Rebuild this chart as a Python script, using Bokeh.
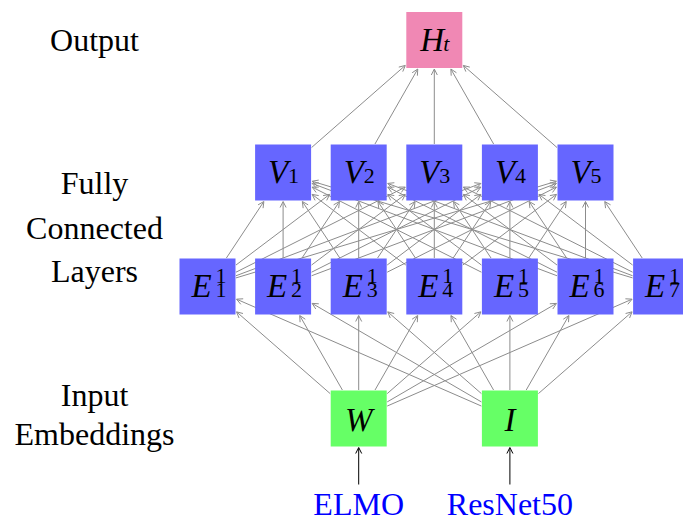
from bokeh.plotting import figure
from bokeh.models import Range1d, Arrow, OpenHead, ColumnDataSource
from bokeh.core.properties import value
from bokeh.embed import file_html
from bokeh.resources import INLINE

# ---- content ----
output_letters = ["H"]
output_subs = ["t"]
output_sups = [""]
output_cols = [3]

fc_letters = ["V", "V", "V", "V", "V"]
fc_subs = ["1", "2", "3", "4", "5"]
fc_sups = ["", "", "", "", ""]
fc_cols = [1, 2, 3, 4, 5]

emb_letters = ["E", "E", "E", "E", "E", "E", "E"]
emb_subs = ["1", "2", "3", "4", "5", "6", "7"]
emb_sups = ["1", "1", "1", "1", "1", "1", "1"]
emb_cols = [0, 1, 2, 3, 4, 5, 6]

input_letters = ["W", "I"]
input_subs = ["", ""]
input_sups = ["", ""]
input_cols = [2, 4]

source_names = ["ELMO", "ResNet50"]

side_labels = ["Output", "Fully", "Connected", "Layers", "Input", "Embeddings"]

# ---- layout (pixel coordinates) ----
W, H = 683, 521
X0, PITCH = 207.0, 75.6
ROW_Y = {"out": 39.5, "fc": 172.0, "emb": 286.0, "inp": 418.0}
BOX = 56.0
HALF = 28.5
TY = -10  # baseline correction for rendered text
SIDE_X = 94
SIDE_Y = [49, 192, 237, 280, 404, 443]
SRC_Y = 513
SRC_ARROW_Y = 484
# per-layer label offsets: (main left offset, script left offset)
LBL_OFF = {"out": (-14, 9), "fc": (-15, 5), "emb": (-16, 8)}

COL_BLUE = "#6666FF"
COL_GREEN = "#66FF66"
COL_PINK = "#F088B4"
EDGE = "#8c8c8c"
SERIF = "Liberation Serif"

p = figure(width=W, height=H, x_range=Range1d(0, W), y_range=Range1d(H, 0),
           output_backend="svg", toolbar_location=None, min_border=0)
p.axis.visible = False
p.grid.visible = False
p.outline_line_color = None
p.background_fill_color = "white"
p.border_fill_color = "white"

def xs(cols):
    return [X0 + PITCH * c for c in cols]

layers = [
    ("out", output_letters, output_subs, output_sups, output_cols, COL_PINK),
    ("fc", fc_letters, fc_subs, fc_sups, fc_cols, COL_BLUE),
    ("emb", emb_letters, emb_subs, emb_sups, emb_cols, COL_BLUE),
    ("inp", input_letters, input_subs, input_sups, input_cols, COL_GREEN),
]

def edge_pts(x1, y1, x2, y2, h1=HALF, h2=HALF + 0.5):
    dx, dy = x2 - x1, y2 - y1
    m = max(abs(dx), abs(dy))
    return (x1 + dx * h1 / m, y1 + dy * h1 / m, x2 - dx * h2 / m, y2 - dy * h2 / m)

pairs = [("fc", fc_cols, "out", output_cols),
         ("emb", emb_cols, "fc", fc_cols),
         ("inp", input_cols, "emb", emb_cols)]
ex0, ey0, ex1, ey1 = [], [], [], []
for lo, lo_cols, hi, hi_cols in pairs:
    for xa in xs(lo_cols):
        for xb in xs(hi_cols):
            a, b, c, d = edge_pts(xa, ROW_Y[lo], xb, ROW_Y[hi])
            ex0.append(a); ey0.append(b); ex1.append(c); ey1.append(d)

esrc = ColumnDataSource(dict(x0=ex0, y0=ey0, x1=ex1, y1=ey1))
p.add_layout(Arrow(end=OpenHead(size=6, line_color=EDGE, line_width=1),
                   x_start="x0", y_start="y0", x_end="x1", y_end="y1",
                   line_color=EDGE, line_width=1, source=esrc, level="underlay"))

for key, letters, subs, sups, cols, color in layers:
    cx = xs(cols)
    cy = [ROW_Y[key]] * len(cols)
    p.rect(x=cx, y=cy, width=BOX, height=BOX, fill_color=color, line_color=None)
    if key in LBL_OFF:
        m_off, s_off = LBL_OFF[key]
        p.text(x=[c + m_off for c in cx], y=[c + 9.5 + TY for c in cy], text=letters,
               text_font=value(SERIF), text_font_style="italic", text_font_size="33px",
               text_align="left", text_baseline="alphabetic", text_color="black")
        sub_style = "italic" if key == "out" else "normal"
        p.text(x=[c + s_off for c in cx], y=[c + 13.5 + TY for c in cy], text=subs,
               text_font=value(SERIF), text_font_style=sub_style, text_font_size="22px",
               text_align="left", text_baseline="alphabetic", text_color="black")
        if any(s for s in sups):
            p.text(x=[c + s_off for c in cx], y=[c - 1 + TY for c in cy], text=sups,
                   text_font=value(SERIF), text_font_size="22px",
                   text_align="left", text_baseline="alphabetic", text_color="black")
    else:
        p.text(x=cx, y=[c + 11 + TY for c in cy], text=letters,
               text_font=value(SERIF), text_font_style="italic", text_font_size="33px",
               text_align="center", text_baseline="alphabetic", text_color="black")

sx = xs(input_cols)
ssrc = ColumnDataSource(dict(x0=sx, y0=[SRC_ARROW_Y] * len(sx), x1=sx,
                             y1=[ROW_Y["inp"] + HALF + 0.5] * len(sx)))
p.add_layout(Arrow(end=OpenHead(size=6, line_color="black", line_width=1),
                   x_start="x0", y_start="y0", x_end="x1", y_end="y1",
                   line_color="black", line_width=1, source=ssrc))
p.text(x=sx, y=[SRC_Y + TY] * len(sx), text=source_names, text_font=value(SERIF),
       text_font_size="32px", text_align="center", text_baseline="alphabetic",
       text_color="#0000FF")

p.text(x=[SIDE_X] * len(side_labels), y=[v + TY for v in SIDE_Y], text=side_labels,
       text_font=value(SERIF), text_font_size="32px", text_align="center",
       text_baseline="alphabetic", text_color="black")

open("out.html", "w").write(file_html(p, INLINE))
